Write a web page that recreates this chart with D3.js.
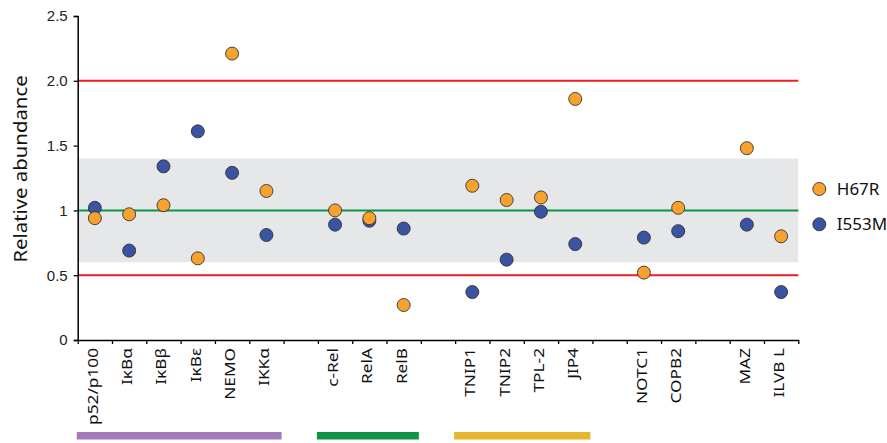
<!DOCTYPE html>
<html>
<head>
<meta charset="utf-8">
<script src="https://cdn.jsdelivr.net/npm/d3@7"></script>
<style>
  body { margin: 0; background: #fff; }
  svg { display: block; }
</style>
</head>
<body>
<svg id="chart" width="887" height="443"></svg>
<script>
// slot labels along the x axis ("" = empty gap slot)
var categories = ["p52/p100", "IκBα", "IκBβ", "IκBε", "NEMO", "IKKα", "",
  "c-Rel", "RelA", "RelB", "",
  "TNIP1", "TNIP2", "TPL-2", "JIP4", "",
  "NOTC1", "COPB2", "", "MAZ", "ILVB L"];

var h67r = [0.94, 0.97, 1.04, 0.63, 2.21, 1.15, null,
  1.00, 0.94, 0.27, null,
  1.19, 1.08, 1.10, 1.86, null,
  0.52, 1.02, null, 1.48, 0.80];

var i553m = [1.02, 0.69, 1.34, 1.61, 1.29, 0.81, null,
  0.89, 0.92, 0.86, null,
  0.37, 0.62, 0.99, 0.74, null,
  0.79, 0.84, null, 0.89, 0.37];

var yTicks = [0, 0.5, 1, 1.5, 2, 2.5];
var yTickLabels = ["0", "0.5", "1", "1.5", "2.0", "2.5"];

var refLines = [
  {value: 2.0, color: "#ed1c24"},
  {value: 0.5, color: "#ed1c24"},
  {value: 1.0, color: "#0b9444"}
];
var band = [0.6, 1.4];

var groups = [
  {from: "p52/p100", to: "IKKα", color: "#a47ab8"},
  {from: "c-Rel", to: "RelB", color: "#0f9547"},
  {from: "TNIP1", to: "JIP4", color: "#e4b72d"}
];

var series = [
  {name: "I553M", values: i553m, color: "#3a53a3"},
  {name: "H67R", values: h67r, color: "#f7a22f"}
];
var legendOrder = ["H67R", "I553M"];

var svg = d3.select("#chart");
var m = {left: 77.7, right: 798.3, top: 16, bottom: 340};

var x = d3.scaleBand().domain(d3.range(categories.length)).range([m.left, m.right]).padding(0);
var y = d3.scaleLinear().domain([0, 2.5]).range([m.bottom, m.top]);

// grey band
svg.append("rect")
  .attr("x", m.left).attr("width", m.right - m.left)
  .attr("y", y(band[1])).attr("height", y(band[0]) - y(band[1]))
  .attr("fill", "#e6e7e8");

// reference lines
svg.selectAll(".ref").data(refLines).enter().append("line")
  .attr("x1", m.left).attr("x2", m.right)
  .attr("y1", function(d) { return y(d.value); })
  .attr("y2", function(d) { return y(d.value); })
  .attr("stroke", function(d) { return d.color; })
  .attr("stroke-width", 2);

// y axis
var yAxis = svg.append("g")
  .attr("transform", "translate(" + m.left + ",0)")
  .call(d3.axisLeft(y).tickValues(yTicks).tickSize(4).tickPadding(6)
    .tickFormat(function(d, i) { return yTickLabels[i]; }));
yAxis.select(".domain").attr("stroke-width", 1.5);
yAxis.selectAll(".tick line").attr("stroke-width", 1.3);
yAxis.selectAll("text")
  .attr("font-family", "Liberation Sans, Arial, sans-serif")
  .attr("font-size", 15).attr("fill", "#222");

// x axis: ticks at slot boundaries
var xb = d3.scaleLinear().domain([0, categories.length]).range([m.left, m.right]);
var xAxis = svg.append("g")
  .attr("transform", "translate(0," + m.bottom + ")")
  .call(d3.axisBottom(xb).tickValues(d3.range(categories.length + 1))
    .tickSize(4).tickSizeOuter(0).tickFormat(""));
xAxis.select(".domain").attr("stroke-width", 1.5);
xAxis.selectAll(".tick line").attr("stroke-width", 1.3);

// category labels
svg.selectAll(".cat").data(categories).enter().append("text")
  .attr("transform", function(d, i) {
    return "translate(" + (x(i) + x.bandwidth() / 2 + 3) + ",348) rotate(-90) scale(1.15,1)";
  })
  .attr("text-anchor", "end")
  .attr("font-family", "Noto Sans, sans-serif")
  .attr("font-size", 15)
  .attr("fill", "#111")
  .text(function(d) { return d; });

// y title
svg.append("text")
  .attr("transform", "translate(27,169) rotate(-90) scale(1.1,1)")
  .attr("text-anchor", "middle")
  .attr("font-family", "Noto Sans, sans-serif")
  .attr("font-size", 18.5)
  .attr("fill", "#111")
  .text("Relative abundance");

// points
series.forEach(function(s) {
  svg.append("g").selectAll("circle")
    .data(s.values.map(function(v, i) { return {i: i, v: v}; }).filter(function(d) { return d.v != null; }))
    .enter().append("circle")
    .attr("cx", function(d) { return x(d.i) + x.bandwidth() / 2; })
    .attr("cy", function(d) { return y(d.v); })
    .attr("r", 6.5)
    .attr("fill", s.color)
    .attr("stroke", "#333")
    .attr("stroke-width", 0.9);
});

// group bars
svg.selectAll(".grp").data(groups).enter().append("rect")
  .attr("x", function(d) { return x(categories.indexOf(d.from)) - 1; })
  .attr("width", function(d) {
    return x(categories.indexOf(d.to)) + x.bandwidth() - 2 - x(categories.indexOf(d.from)) + 1;
  })
  .attr("y", 432).attr("height", 7.5)
  .attr("fill", function(d) { return d.color; });

// legend
var leg = svg.selectAll(".leg").data(legendOrder).enter().append("g")
  .attr("transform", function(d, i) { return "translate(819.3," + (189 + i * 35.3) + ")"; });
leg.append("circle")
  .attr("r", 6.5)
  .attr("fill", function(d) { return series.find(function(s) { return s.name === d; }).color; })
  .attr("stroke", "#333").attr("stroke-width", 0.9);
leg.append("text")
  .attr("x", 17.5).attr("dy", "0.36em")
  .attr("font-family", "Noto Sans, sans-serif")
  .attr("font-size", 17)
  .attr("fill", "#111")
  .text(function(d) { return d; });
</script>
</body>
</html>
